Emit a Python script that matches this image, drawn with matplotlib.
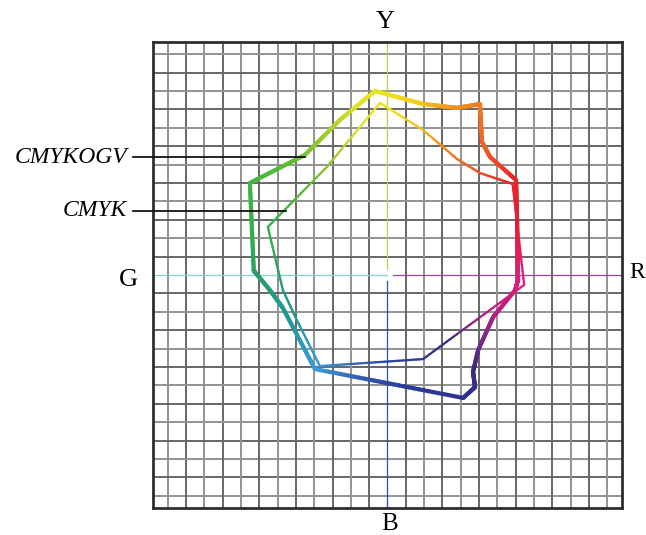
import numpy as np
import matplotlib
matplotlib.use("Agg")
import matplotlib.pyplot as plt
from matplotlib.collections import LineCollection
from matplotlib.colors import to_rgb

# gamut outlines in grid units (1 unit = one grid cell)
cmykogv_x = [-0.68, 1.94, 3.80, 5.05, 5.16, 5.60, 7.02, 7.08, 7.13, 6.97, 5.77,
             4.95, 4.67, 4.78, 4.13, -3.96, -5.71, -6.42, -7.24, -7.30, -7.51,
             -4.51, -2.60]
cmykogv_y = [10.00, 9.29, 9.08, 9.29, 7.23, 6.41, 5.16, 2.83, -0.27, -0.82, -2.28,
             -4.08, -5.27, -6.09, -6.68, -5.11, -1.79, -0.82, 0.16, 0.27, 5.00,
             6.52, 8.42]

cmyk_x = [-0.41, 1.94, 3.80, 5.05, 6.83, 7.46, 1.94, -3.69, -4.95, -5.71, -6.53, -3.31]
cmyk_y = [9.35, 7.88, 6.30, 5.54, 4.95, -0.54, -4.57, -4.95, -2.45, -0.82, 2.61, 5.87]

axis_labels = ["Y", "B", "G", "R"]
series_labels = ["CMYKOGV", "CMYK"]

# hue ring used to colour the outlines by angle around the centre
hue_deg = [-180, -160, -128, -110, -95, -75, -58, -48, -38, -22, -5, 0, 10, 22, 36,
           50, 62, 72, 80, 90, 100, 108, 125, 146, 165, 180]
hue_hex = ["#28a06a", "#1e9a94", "#3a9ad8", "#3566b8", "#2c4aa6", "#2a3a96", "#2e3290",
           "#3b2a80", "#6a2a88", "#b0207e", "#dc1e7a", "#e21e78", "#e41c55", "#e41e3a",
           "#e8232a", "#f05a22", "#f47b20", "#f5a51e", "#f3cc1e", "#efe31c", "#e0e224",
           "#b8d42a", "#70c030", "#3db545", "#30b04a", "#28a06a"]
hue_rgb = np.array([to_rgb(h) for h in hue_hex])


def hue_color(x, y):
    a = np.degrees(np.arctan2(y, x))
    return np.column_stack([np.interp(a, hue_deg, hue_rgb[:, i]) for i in range(3)])


def gamut_line(ax, xs, ys, lw):
    xs = np.append(xs, xs[0])
    ys = np.append(ys, ys[0])
    px, py = [], []
    for i in range(len(xs) - 1):
        t = np.linspace(0, 1, 30, endpoint=False)
        px.extend(xs[i] + (xs[i + 1] - xs[i]) * t)
        py.extend(ys[i] + (ys[i + 1] - ys[i]) * t)
    px.append(xs[0])
    py.append(ys[0])
    px, py = np.array(px), np.array(py)
    pts = np.column_stack([px, py]).reshape(-1, 1, 2)
    segs = np.concatenate([pts[:-1], pts[1:]], axis=1)
    mx, my = (px[:-1] + px[1:]) / 2, (py[:-1] + py[1:]) / 2
    lc = LineCollection(segs, colors=hue_color(mx, my), linewidths=lw,
                        capstyle="round", joinstyle="round", zorder=5)
    ax.add_collection(lc)


fig = plt.figure(figsize=(6.46, 5.35), dpi=100)
ax = fig.add_axes([0.2368, 0.0505, 0.726, 0.871])
XL, YL = 12.8, 12.66
ax.set_xlim(-XL, XL)
ax.set_ylim(-YL, YL)
ax.set_xticks([])
ax.set_yticks([])
for s in ax.spines.values():
    s.set_color("#2e2e2e")
    s.set_linewidth(2.0)

# grid
for k in range(-12, 13):
    if k == 0:
        continue
    c = "#666666" if k % 2 else "#939393"
    ax.axvline(k, color=c, lw=1.4, zorder=1)
    ax.axhline(k, color=c, lw=1.4, zorder=1)

# coloured centre axes
ax.plot([0, 0], [0.3, YL], color="#c8c850", lw=0.9, zorder=2)
ax.plot([0, 0], [-0.3, -YL], color="#3050b0", lw=0.9, zorder=2)
ax.plot([-XL, -0.05], [0, 0], color="#80d4d4", lw=0.9, zorder=2)
ax.plot([0.3, XL], [0, 0], color="#a040a8", lw=0.9, zorder=2)

gamut_line(ax, cmykogv_x, cmykogv_y, 3.0)
gamut_line(ax, cmyk_x, cmyk_y, 1.6)

serif = "Liberation Serif"
ax.text(-0.14, 13.77, axis_labels[0], ha="center", va="center", fontsize=19,
        family=serif, clip_on=False)
ax.text(0.14, -13.55, axis_labels[1], ha="center", va="center", fontsize=18,
        family=serif, clip_on=False)
ax.text(-14.14, -0.27, axis_labels[2], ha="center", va="center", fontsize=19,
        family=serif, clip_on=False)
ax.text(13.2, 0.14, axis_labels[3], ha="left", va="center", fontsize=17,
        family=serif, clip_on=False)

# series labels with leader lines
label_y = [6.41, 3.48]
line_end = [-4.50, -5.54]
for name, ly, le in zip(series_labels, label_y, line_end):
    ax.text(-14.22, ly, name, ha="right", va="center", fontsize=17, style="italic",
            family=serif, clip_on=False)
    ax.plot([-13.89, le], [ly, ly], color="#111111", lw=1.3, clip_on=False, zorder=6)

fig.savefig("out.png", dpi=100)
